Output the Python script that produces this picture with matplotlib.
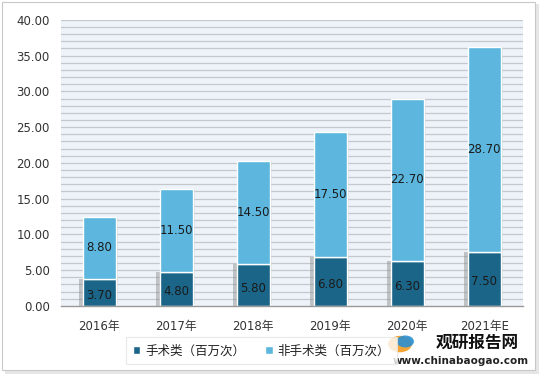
import matplotlib.pyplot as plt
import matplotlib.patches as mpatches
import numpy as np

plt.rcParams['font.family'] = ['DejaVu Sans', 'Noto Sans CJK SC']

# data
years = ['2016年', '2017年', '2018年', '2019年', '2020年', '2021年E']
surgical = [3.70, 4.80, 5.80, 6.80, 6.30, 7.50]
non_surgical = [8.80, 11.50, 14.50, 17.50, 22.70, 28.70]
y_ticks = [0, 5, 10, 15, 20, 25, 30, 35, 40]

dark = '#1b6688'
light = '#5cb6de'

fig = plt.figure(figsize=(5.39, 3.74), dpi=100)
fig.patch.set_facecolor('white')

# outer frame with a soft shadow
fig.add_artist(mpatches.Rectangle((0.01, 0.0), 0.99, 0.99, transform=fig.transFigure,
                                  facecolor='#e6e6e6', edgecolor='none', zorder=-3))
fig.add_artist(mpatches.Rectangle((0.004, 0.012), 0.988, 0.982, transform=fig.transFigure,
                                  facecolor='white', edgecolor='#c8c8c8', lw=0.8, zorder=-2))

ax = fig.add_axes([0.113, 0.182, 0.857, 0.765])
ax.set_facecolor('#edf3f8')

x = np.arange(len(years))
w = 0.42

# grid every 1.0
for g in np.arange(1, 41, 1):
    ax.axhline(g, color='#c4c8cc', lw=0.9, zorder=0)

# shadows behind bars
ax.bar(x - 0.05, surgical, w, color='#8a8a8a', alpha=0.45, zorder=1, edgecolor='none')
ax.bar(x + 0.03, np.array(surgical) + np.array(non_surgical) - 0.3, w,
       bottom=0.3, color='#c0c0c0', alpha=0.3, zorder=1, edgecolor='none')

ax.bar(x, surgical, w, color=dark, edgecolor='white', lw=1, zorder=2,
       label='手术类（百万次）')
ax.bar(x, non_surgical, w, bottom=surgical, color=light, edgecolor='white', lw=1,
       zorder=2, label='非手术类（百万次）')

for i in range(len(years)):
    ax.text(x[i], surgical[i] / 2 - 0.4, f'{surgical[i]:.2f}', ha='center', va='center',
            fontsize=8.5, color='#1a1a1a', zorder=3)
    ax.text(x[i], surgical[i] + non_surgical[i] / 2, f'{non_surgical[i]:.2f}',
            ha='center', va='center', fontsize=8.5, color='#1a1a1a', zorder=3)

ax.set_xlim(-0.5, len(years) - 0.5)
ax.set_ylim(0, 40)
ax.set_yticks(y_ticks)
ax.set_yticklabels([f'{v:.2f}' for v in y_ticks], fontsize=8.5, color='#333333')
ax.set_xticks(x)
ax.set_xticklabels(years, fontsize=8.5, color='#333333',
                   family=['DejaVu Sans', 'Noto Sans CJK SC'])
ax.tick_params(axis='both', length=0, pad=8)
ax.tick_params(axis='x', pad=10)
for s in ['top', 'right', 'left']:
    ax.spines[s].set_visible(False)
ax.spines['bottom'].set_color('#999999')
ax.spines['bottom'].set_linewidth(1)

# legend
leg = fig.legend(loc='center', bbox_to_anchor=(0.485, 0.062), ncol=2, frameon=True,
                 prop={'family': ['Noto Sans CJK SC'], 'size': 9},
                 handlelength=0.6, handleheight=0.6, handletextpad=0.4,
                 columnspacing=1.6, fancybox=False, borderpad=0.55, borderaxespad=0)
leg.get_frame().set_edgecolor('#e4e4e4')
leg.get_frame().set_linewidth(0.8)
for t in leg.get_texts():
    t.set_color('#222222')

# watermark
fig.text(0.885, 0.083, '观研报告网', ha='center', va='center', fontsize=12,
         fontweight='bold', family=['Noto Sans CJK SC'], color='#111111')
fig.text(0.855, 0.035, 'www.chinabaogao.com', ha='center', va='center', fontsize=7.5,
         fontweight='bold', color='#222222')
fig.add_artist(mpatches.Circle((0.742, 0.080), 0.022, transform=fig.transFigure,
                               facecolor='#f29a1f', edgecolor='none', alpha=0.9))
fig.add_artist(mpatches.Circle((0.752, 0.087), 0.016, transform=fig.transFigure,
                               facecolor='#2a8fd0', edgecolor='none', alpha=0.9))

fig.savefig('out.png', dpi=100)
